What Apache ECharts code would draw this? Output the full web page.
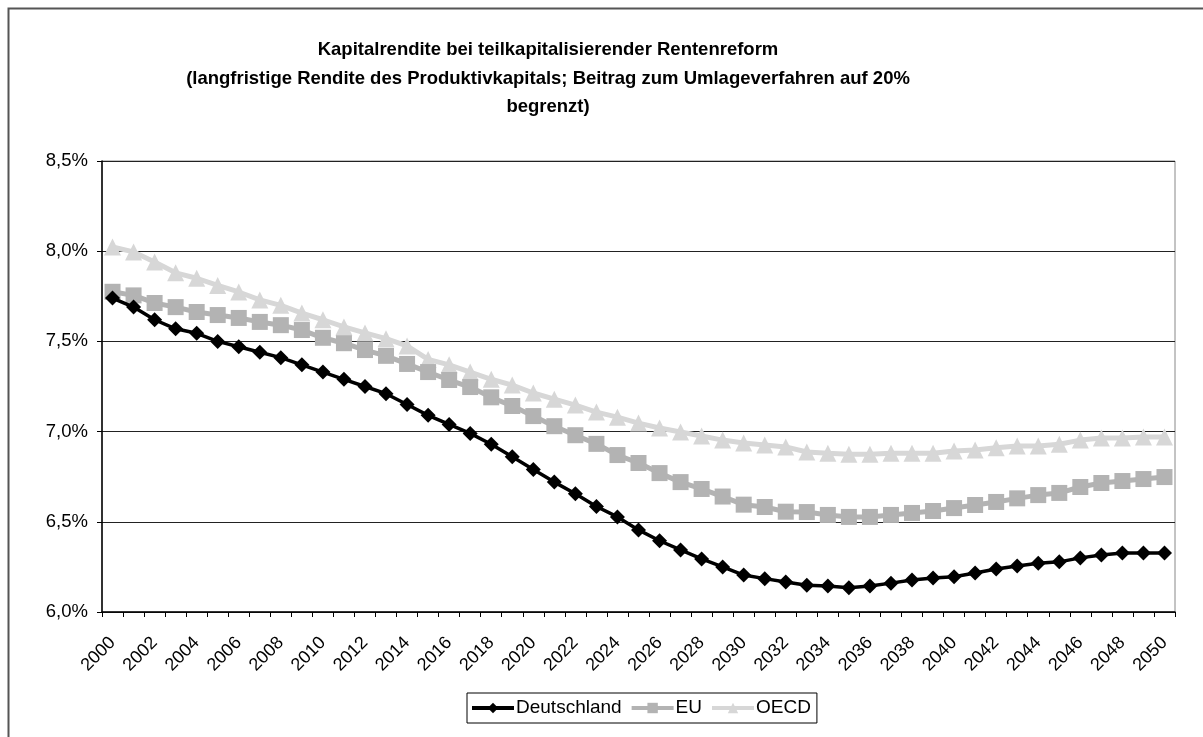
<!DOCTYPE html>
<html>
<head>
<meta charset="utf-8">
<script src="https://cdn.jsdelivr.net/npm/echarts@6/dist/echarts.min.js"></script>
<style>
html, body { margin: 0; padding: 0; background: #fff; }
#chartLineBox { width: 1203px; height: 737px; }
</style>
</head>
<body>
<div id="chartLineBox"></div>
<script>
// years 2000..2050
var years = [];
for (var y = 2000; y <= 2050; y++) years.push(String(y));

var deutschland = [
  7.74, 7.69, 7.62, 7.57, 7.545, 7.50, 7.47, 7.44, 7.41, 7.37,
  7.33, 7.29, 7.25, 7.21, 7.15, 7.09, 7.04, 6.99, 6.93, 6.86,
  6.79, 6.72, 6.655, 6.585, 6.527, 6.455, 6.395, 6.344, 6.294, 6.25,
  6.205, 6.185, 6.166, 6.148, 6.144, 6.135, 6.144, 6.16, 6.177, 6.188,
  6.195, 6.216, 6.238, 6.255, 6.27, 6.278, 6.30, 6.316, 6.327, 6.327,
  6.327
];

var eu = [
  7.775, 7.755, 7.713, 7.69, 7.663, 7.646, 7.63, 7.608, 7.59, 7.563,
  7.52, 7.49, 7.452, 7.42, 7.375, 7.33, 7.286, 7.247, 7.19, 7.142,
  7.086, 7.03, 6.98, 6.932, 6.87, 6.826, 6.77, 6.72, 6.682, 6.64,
  6.595, 6.582, 6.556, 6.554, 6.538, 6.527, 6.527, 6.538, 6.549, 6.56,
  6.576, 6.593, 6.61, 6.63, 6.648, 6.66, 6.693, 6.715, 6.726, 6.737,
  6.748
];

var oecd = [
  8.023, 7.996, 7.94, 7.88, 7.85, 7.81, 7.774, 7.73, 7.70, 7.657,
  7.62, 7.58, 7.547, 7.515, 7.475, 7.40, 7.37, 7.33, 7.29, 7.258,
  7.214, 7.18, 7.147, 7.108, 7.08, 7.047, 7.02, 6.998, 6.976, 6.953,
  6.937, 6.926, 6.915, 6.887, 6.88, 6.875, 6.875, 6.88, 6.88, 6.88,
  6.893, 6.898, 6.91, 6.92, 6.92, 6.93, 6.953, 6.964, 6.964, 6.97,
  6.97
];

var titleLines = [
  'Kapitalrendite bei teilkapitalisierender Rentenreform',
  '(langfristige Rendite des Produktivkapitals; Beitrag zum Umlageverfahren auf 20%',
  'begrenzt)'
];

var FONT = '"Liberation Sans", Arial, sans-serif';

var Chart = echarts.init(document.getElementById('chartLineBox'));

var option = {
  backgroundColor: '#fff',
  animation: false,
  textStyle: { fontFamily: FONT },
  graphic: [{
    type: 'rect',
    shape: { x: 8.5, y: 8.5, width: 1400, height: 1000 },
    style: { fill: 'none', stroke: '#555', lineWidth: 2 },
    silent: true
  }],
  title: {
    text: titleLines.join('\n'),
    left: 543,
    textAlign: 'center',
    top: 31,
    textStyle: {
      fontFamily: FONT,
      fontSize: 18.5,
      fontWeight: 'bold',
      color: '#000',
      lineHeight: 28.5
    }
  },
  legend: {
    data: ['Deutschland', 'EU', 'OECD'],
    left: 467,
    top: 693,
    padding: [4, 6, 4, 3],
    itemGap: 8,
    itemWidth: 42,
    itemHeight: 13,
    borderColor: '#000',
    borderWidth: 1,
    lineStyle: { width: 4 },
    textStyle: { fontFamily: FONT, fontSize: 19, lineHeight: 22, color: '#000', padding: [0, 0, 0, -3] }
  },
  grid: {
    left: 102,
    right: 28,
    top: 161,
    bottom: 125,
    show: true,
    borderColor: '#888',
    borderWidth: 1
  },
  xAxis: {
    type: 'category',
    boundaryGap: true,
    data: years,
    axisLine: { lineStyle: { color: '#000', width: 1.5 } },
    axisTick: { show: true, interval: 0, length: 5, lineStyle: { color: '#000' } },
    axisLabel: {
      interval: 1,
      rotate: 45,
      margin: 28,
      fontFamily: FONT,
      fontSize: 18,
      color: '#000'
    },
    splitLine: { show: false }
  },
  yAxis: {
    type: 'value',
    min: 6,
    max: 8.5,
    interval: 0.5,
    axisLine: { show: true, lineStyle: { color: '#000', width: 1.5 } },
    axisTick: { show: true, length: 5, lineStyle: { color: '#000' } },
    axisLabel: {
      margin: 14,
      fontFamily: FONT,
      fontSize: 18.5,
      color: '#000',
      formatter: function (v) { return v.toFixed(1).replace('.', ',') + '%'; }
    },
    splitLine: { show: true, lineStyle: { color: '#222', width: 1.2 } }
  },
  series: [{
    name: 'Deutschland',
    type: 'line',
    data: deutschland,
    symbol: 'diamond',
    symbolSize: 15,
    showAllSymbol: true,
    z: 4,
    itemStyle: { color: '#000' },
    lineStyle: { color: '#000', width: 3.5 }
  }, {
    name: 'EU',
    type: 'line',
    data: eu,
    symbol: 'rect',
    symbolSize: 16,
    showAllSymbol: true,
    z: 3,
    itemStyle: { color: '#b3b3b3' },
    lineStyle: { color: '#b3b3b3', width: 5 }
  }, {
    name: 'OECD',
    type: 'line',
    data: oecd,
    symbol: 'triangle',
    symbolSize: 17,
    showAllSymbol: true,
    z: 2,
    itemStyle: { color: '#d7d7d7' },
    lineStyle: { color: '#d7d7d7', width: 5 }
  }]
};

Chart.setOption(option);
</script>
</body>
</html>
